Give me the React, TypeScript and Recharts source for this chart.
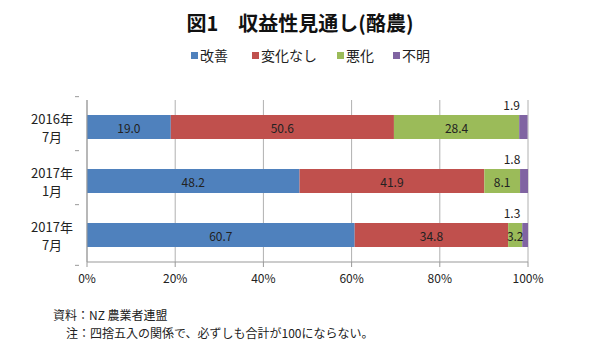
import React from 'react';
import { BarChart, Bar, XAxis, YAxis, CartesianGrid, Legend, LabelList } from 'recharts';

const categories = ['2016年\n7月', '2017年\n1月', '2017年\n7月'];
const improve = [19.0, 48.2, 60.7];
const unchanged = [50.6, 41.9, 34.8];
const worse = [28.4, 8.1, 3.2];
const unknown = [1.9, 1.8, 1.3];
const xTicks = [0, 20, 40, 60, 80, 100];
const seriesNames = ['改善', '変化なし', '悪化', '不明'];
const colors = ['#4F81BD', '#C0504D', '#9BBB59', '#8064A2'];

const data = categories.map((c, i) => ({
  cat: c,
  a: improve[i],
  b: unchanged[i],
  c: worse[i],
  d: unknown[i],
}));

const FONT = '"Noto Sans CJK JP", "Noto Sans", sans-serif';
const PLOT_TOP = 80;
const PLOT_H = 182;

const CatTick = (props: any) => {
  const { x, y, payload, index } = props;
  const lines = String(payload.value).split('\n');
  const band = PLOT_H / categories.length;
  const ax = x + 0;
  return (
    <g>
      <line x1={ax - 4} x2={ax} y1={y - band / 2} y2={y - band / 2} stroke="#999" />
      {index === categories.length - 1 && (
        <line x1={ax - 4} x2={ax} y1={y + band / 2} y2={y + band / 2} stroke="#999" />
      )}
      {lines.map((l, i) => (
        <text key={i} x={52} y={y + (i === 0 ? -9 : 9)} textAnchor="middle" dominantBaseline="central"
          fontSize={13} fill="#222" fontFamily={FONT}>{l}</text>
      ))}
    </g>
  );
};

const InsideLabel = (props: any) => {
  const { x, y, width, height, value } = props;
  return (
    <text x={x + width / 2} y={y + height / 2} textAnchor="middle" dominantBaseline="central"
      fontSize={12} fill="#222" fontFamily={FONT}>{Number(value).toFixed(1)}</text>
  );
};

const TopLabel = (props: any) => {
  const { x, y, width, value } = props;
  return (
    <text x={x + width - 16} y={y - 11} textAnchor="middle" dominantBaseline="central"
      fontSize={12} fill="#222" fontFamily={FONT}>{Number(value).toFixed(1)}</text>
  );
};

const LegendContent = () => {
  const offsets = [191, 252, 337, 393];
  return (
    <div style={{ position: 'relative', width: 600, height: 20 }}>
      {seriesNames.map((n, i) => (
        <div key={n} style={{ position: 'absolute', left: offsets[i], top: 0, display: 'flex', alignItems: 'center', fontFamily: FONT, fontSize: 14, color: '#222', whiteSpace: 'nowrap', lineHeight: '20px' }}>
          <span style={{ display: 'inline-block', width: 7, height: 7, background: colors[i], marginRight: 2 }} />
          {n}
        </div>
      ))}
    </div>
  );
};

export default function App() {
  return (
    <div style={{ position: 'absolute', left: 0, top: 0, width: 600, height: 357, background: '#fff', overflow: 'hidden' }}>
      <div style={{ position: 'absolute', left: 0, top: 9, width: 600, textAlign: 'center', fontFamily: FONT, fontWeight: 'bold', fontSize: 20, lineHeight: '28px', color: '#111' }}>
        図1　収益性見通し(酪農)
      </div>
      <BarChart width={600} height={300} data={data} layout="vertical" barSize={24}
        margin={{ top: PLOT_TOP, right: 72, left: 0, bottom: 8 }}>
        <CartesianGrid horizontal={false} stroke="#b0b0b0" />
        <XAxis type="number" domain={[0, 100]} ticks={xTicks} tickFormatter={(v: number) => `${v}%`}
          height={30} tickSize={5} tickMargin={7} stroke="#999"
          tick={{ fill: '#222', fontSize: 12, fontFamily: FONT }} allowDataOverflow />
        <YAxis type="category" dataKey="cat" width={87} tickLine={false} stroke="#999" tick={<CatTick />} interval={0} />
        <Legend verticalAlign="top" content={<LegendContent />} wrapperStyle={{ top: 45, left: 0, width: 600 }} />
        <Bar dataKey="a" name={seriesNames[0]} stackId="s" fill={colors[0]} isAnimationActive={false}>
          <LabelList dataKey="a" content={<InsideLabel />} />
        </Bar>
        <Bar dataKey="b" name={seriesNames[1]} stackId="s" fill={colors[1]} isAnimationActive={false}>
          <LabelList dataKey="b" content={<InsideLabel />} />
        </Bar>
        <Bar dataKey="c" name={seriesNames[2]} stackId="s" fill={colors[2]} isAnimationActive={false}>
          <LabelList dataKey="c" content={<InsideLabel />} />
        </Bar>
        <Bar dataKey="d" name={seriesNames[3]} stackId="s" fill={colors[3]} isAnimationActive={false}>
          <LabelList dataKey="d" content={<TopLabel />} />
        </Bar>
      </BarChart>
      <div style={{ position: 'absolute', left: 53, top: 306, fontFamily: FONT, fontSize: 12, color: '#222', whiteSpace: 'nowrap', lineHeight: '18px' }}>
        資料：NZ 農業者連盟
      </div>
      <div style={{ position: 'absolute', left: 66, top: 324, fontFamily: FONT, fontSize: 12, color: '#222', whiteSpace: 'nowrap', lineHeight: '18px' }}>
        注：四捨五入の関係で、必ずしも合計が100にならない。
      </div>
    </div>
  );
}
